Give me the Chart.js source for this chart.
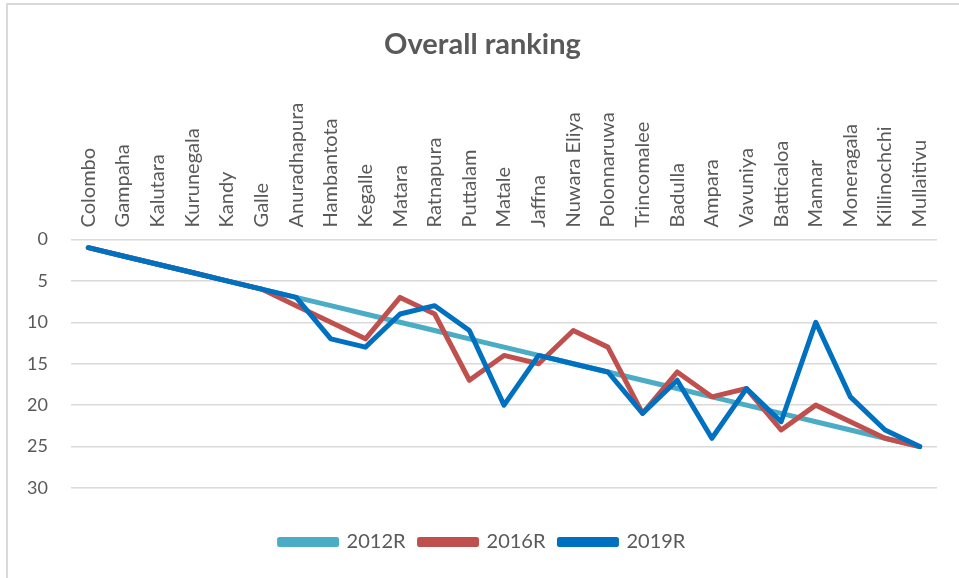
<!DOCTYPE html>
<html>
<head>
<meta charset="utf-8">
<script src="https://cdn.jsdelivr.net/npm/chart.js@4.4.0/dist/chart.umd.min.js"></script>
<style>
  html, body { margin: 0; padding: 0; background: #fff; overflow: hidden; }
  #wrap { position: relative; width: 959px; height: 578px; }
  #frame { position: absolute; left: 6px; top: 3px; right: -4px; bottom: -4px;
    border-left: 2px solid #d9d9d9; border-top: 2px solid #d9d9d9; pointer-events: none; }
</style>
</head>
<body>
<div id="wrap"><canvas id="rank-chart"></canvas><div id="frame"></div></div>
<script>
// Chart data

const districts = ['Colombo', 'Gampaha', 'Kalutara', 'Kurunegala', 'Kandy', 'Galle',
  'Anuradhapura', 'Hambantota', 'Kegalle', 'Matara', 'Ratnapura', 'Puttalam', 'Matale',
  'Jaffna', 'Nuwara Eliya', 'Polonnaruwa', 'Trincomalee', 'Badulla', 'Ampara', 'Vavuniya',
  'Batticaloa', 'Mannar', 'Moneragala', 'Killinochchi', 'Mullaitivu'];

const rank2012 = [1, 2, 3, 4, 5, 6, 7, 8, 9, 10, 11, 12, 13, 14, 15, 16, 17, 18, 19, 20,
  21, 22, 23, 24, 25];
const rank2016 = [1, 2, 3, 4, 5, 6, 8, 10, 12, 7, 9, 17, 14, 15, 11, 13, 21, 16, 19, 18,
  23, 20, 22, 24, 25];
const rank2019 = [1, 2, 3, 4, 5, 6, 7, 12, 13, 9, 8, 11, 20, 14, 15, 16, 21, 17, 24, 18,
  22, 10, 19, 23, 25];

const seriesNames = ['2012R', '2016R', '2019R'];
const seriesColors = ['#4bacc6', '#c0504d', '#0070c0'];

const ctx = document.getElementById('rank-chart').getContext('2d');

const rankChart = new Chart(ctx, {
  type: 'line',
  data: {
    labels: districts,
    datasets: [rank2012, rank2016, rank2019].map((vals, i) => ({
      label: seriesNames[i],
      data: vals,
      borderColor: seriesColors[i],
      backgroundColor: seriesColors[i],
      borderWidth: 5,
      borderCapStyle: 'round',
      borderJoinStyle: 'round',
      pointRadius: 0,
      tension: 0,
      order: 2 - i   // later years drawn on top
    }))
  },
  options: {
    responsive: true,
    maintainAspectRatio: false,
    animation: false,
    layout: {
      padding: { left: 28, right: 22, top: 7, bottom: 16 }
    },
    scales: {
      x: {
        position: 'top',
        offset: true,
        grid: { display: false },
        border: { display: false },
        afterFit: scale => {
          scale.paddingLeft = 0;
          scale.paddingRight = 0;
        },
        ticks: {
          color: '#595959',
          font: { family: 'Lato', size: 20 },
          minRotation: 90,
          maxRotation: 90,
          autoSkip: false,
          padding: 4,
          labelOffset: 24
        }
      },
      y: {
        reverse: true,
        min: 0,
        max: 30,
        grid: { color: '#d9d9d9', lineWidth: 1.5, drawTicks: false },
        border: { display: false },
        afterFit: scale => {
          // keep the axis as narrow as the labels + gap
          scale.width = 43;
        },
        ticks: {
          stepSize: 5,
          color: '#595959',
          font: { family: 'Lato', size: 18 },
          padding: 23
        }
      }
    },
    plugins: {
      title: {
        display: true,
        text: 'Overall ranking',
        color: '#595959',
        font: { family: 'Lato', size: 29, weight: 'bold' },
        padding: { top: 20, bottom: 37 }
      },
      legend: {
        position: 'bottom',
        title: {
          display: true,
          text: '',
          font: { size: 10 },
          padding: 9
        },
        labels: {
          color: '#595959',
          font: { family: 'Lato', size: 20 },
          boxWidth: 57,
          boxHeight: 5,
          padding: 14,
          sort: (a, b) => a.datasetIndex - b.datasetIndex
        }
      },
      tooltip: { enabled: false }
    }
  }
});
</script>
</body>
</html>
